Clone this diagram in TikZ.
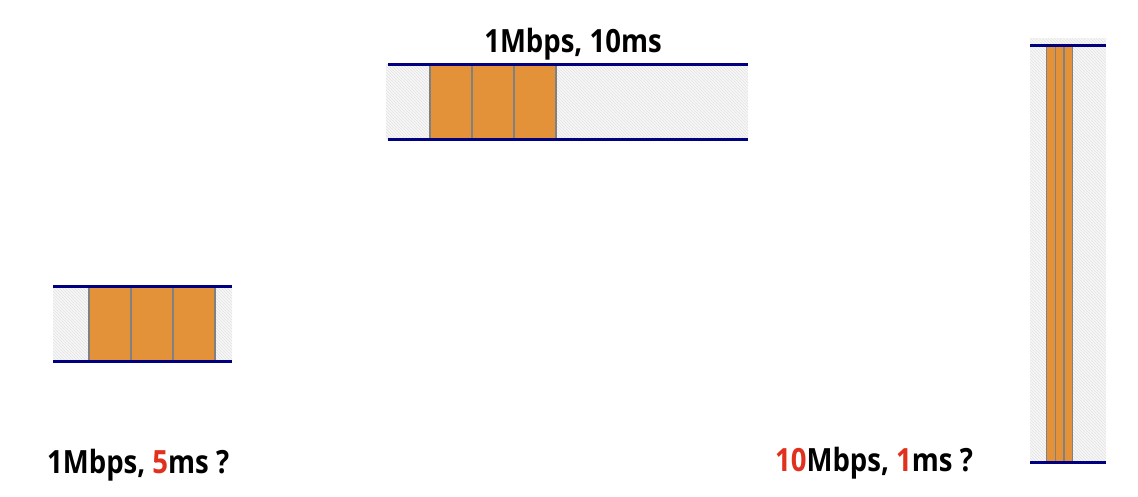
\documentclass[tikz,border=0pt]{standalone}
\usepackage{fontspec}
\usepackage{xcolor}
\setmainfont{Open Sans}[FakeStretch=0.86]
\usetikzlibrary{patterns}
\definecolor{pkt}{HTML}{E3923A}
\definecolor{wire}{HTML}{000080}
\definecolor{hl}{HTML}{E0301E}
\tikzset{
  lbl/.style={font=\fontsize{32}{38}\selectfont\bfseries, inner sep=0pt},
  medium/.style={fill=gray!6, postaction={pattern=north west lines, pattern color=gray!22}},
  packet/.style={fill=pkt, draw=gray, line width=1.3pt},
  wireline/.style={wire, line width=3pt}
}
\begin{document}
\begin{tikzpicture}[x=1pt, y=-1pt]
    \useasboundingbox (0,0) rectangle (1138,496);
    % 1Mbps, 10ms
    \fill[medium] (386,64) rectangle (748,139);
    \foreach \i in {0,1,2}
      \draw[packet] ({430+42*\i},64) rectangle ++(42,75);
    \draw[wireline] (388,64) -- (748,64);
    \draw[wireline] (388,139) -- (748,139);
    \node[lbl] (toplbl) at (573,44) {1Mbps, 10ms};
    % 1Mbps, 5ms
    \fill[medium] (53,286) rectangle (232,361);
    \foreach \i in {0,1,2}
      \draw[packet] ({89+42*\i},286) rectangle ++(42,75);
    \draw[wireline] (53,286) -- (232,286);
    \draw[wireline] (53,361) -- (232,361);
    \node[lbl, anchor=west] (leftlbl) at (47,465) {1Mbps, \textcolor{hl}{5}ms ?};
    % 10Mbps, 1ms
    \fill[medium] (1030,38) rectangle (1106,462);
    \foreach \i in {0,1,2}
      \draw[packet] ({1046.5+8.7*\i},45) rectangle ++(8.7,417);
    \draw[wireline] (1030,45) -- (1106,45);
    \draw[wireline] (1030,462) -- (1106,462);
    \node[lbl, anchor=west] (rightlbl) at (775,463) {\textcolor{hl}{10}Mbps, \textcolor{hl}{1}ms ?};
  \end{tikzpicture}
\end{document}
